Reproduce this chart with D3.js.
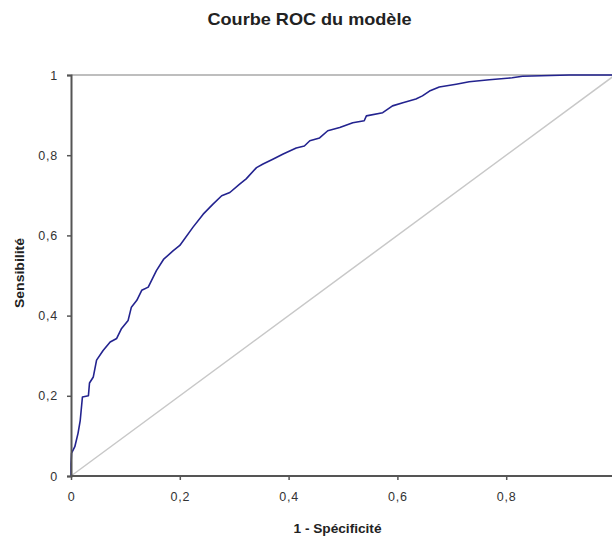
<!DOCTYPE html>
<html>
<head>
<meta charset="utf-8">
<script src="https://cdn.jsdelivr.net/npm/d3@7"></script>
<style>
  html, body { margin: 0; padding: 0; background: #fff; }
  svg { display: block; font-family: "Liberation Sans", Arial, sans-serif; }
</style>
</head>
<body>
<svg id="chart" width="612" height="538"></svg>
<script>
// ROC curve points (1 - specificity, sensitivity)
const fpr = [0, 0, 0.001, 0.007, 0.013, 0.017, 0.021, 0.032, 0.034, 0.041, 0.047, 0.059, 0.072, 0.084, 0.093, 0.105, 0.111, 0.121, 0.130, 0.142, 0.157, 0.170, 0.188, 0.200, 0.224, 0.243, 0.261, 0.277, 0.292, 0.310, 0.322, 0.341, 0.353, 0.371, 0.390, 0.414, 0.429, 0.439, 0.457, 0.472, 0.494, 0.518, 0.539, 0.543, 0.573, 0.591, 0.610, 0.634, 0.646, 0.659, 0.677, 0.708, 0.732, 0.769, 0.811, 0.830, 0.916, 1.0];
const tpr = [0, 0.03, 0.057, 0.073, 0.107, 0.139, 0.197, 0.200, 0.232, 0.247, 0.289, 0.313, 0.334, 0.343, 0.368, 0.388, 0.421, 0.438, 0.463, 0.471, 0.512, 0.540, 0.562, 0.575, 0.620, 0.653, 0.678, 0.699, 0.707, 0.728, 0.741, 0.769, 0.778, 0.790, 0.803, 0.818, 0.823, 0.836, 0.843, 0.861, 0.869, 0.881, 0.886, 0.898, 0.906, 0.923, 0.931, 0.940, 0.948, 0.960, 0.970, 0.977, 0.983, 0.988, 0.993, 0.997, 1.0, 1.0];
// reference diagonal
const diagX = [0, 1];
const diagY = [0, 1];
const xTicks = [0, 0.2, 0.4, 0.6, 0.8, 1];
const yTicks = [0, 0.2, 0.4, 0.6, 0.8, 1];
const fmt = d => String(d).replace(".", ",");

const svg = d3.select("#chart");
const x = d3.scaleLinear().domain([0, 1]).range([71, 615]);
const y = d3.scaleLinear().domain([0, 1]).range([476, 75]);

// title
svg.append("text").attr("x", 309.5).attr("y", 25).attr("text-anchor", "middle")
  .attr("font-size", 17).attr("font-weight", "bold").attr("fill", "#222")
  .attr("textLength", 204).attr("lengthAdjust", "spacingAndGlyphs")
  .text("Courbe ROC du modèle");

// top border
svg.append("line").attr("x1", x(0)).attr("x2", 612).attr("y1", y(1)).attr("y2", y(1))
  .attr("stroke", "#a8a8a8").attr("stroke-width", 1.5);

// diagonal
svg.append("path")
  .datum(diagX.map((d, i) => [d, diagY[i]]))
  .attr("fill", "none").attr("stroke", "#c8c8c8").attr("stroke-width", 1.5)
  .attr("d", d3.line().x(d => x(d[0])).y(d => y(d[1])));

// ROC curve
svg.append("path")
  .datum(fpr.map((d, i) => [d, tpr[i]]))
  .attr("fill", "none").attr("stroke", "#23238f").attr("stroke-width", 1.6)
  .attr("stroke-linejoin", "round")
  .attr("d", d3.line().x(d => x(d[0])).y(d => y(d[1])));

// axes
const xAxis = svg.append("g").attr("transform", `translate(0,${y(0)})`)
  .call(d3.axisBottom(x).tickValues(xTicks).tickFormat(fmt).tickSize(4).tickPadding(12));
const yAxis = svg.append("g").attr("transform", `translate(${x(0)},0)`)
  .call(d3.axisLeft(y).tickValues(yTicks).tickFormat(fmt).tickSize(4).tickPadding(9));
[xAxis, yAxis].forEach(g => {
  g.select(".domain").attr("stroke", "#555").attr("stroke-width", 2);
  g.selectAll(".tick line").attr("stroke", "#555").attr("stroke-width", 1.5);
  g.selectAll(".tick text").attr("font-size", 12.5).attr("fill", "#333")
    .attr("letter-spacing", 0.8)
    .attr("font-family", "'Liberation Sans', Arial, sans-serif");
});
xAxis.select(".domain").attr("d", `M${x(0)},0H612`);

// axis titles
svg.append("text").attr("x", 337.5).attr("y", 533).attr("text-anchor", "middle")
  .attr("font-size", 12).attr("font-weight", "bold").attr("fill", "#222")
  .attr("textLength", 88).attr("lengthAdjust", "spacingAndGlyphs")
  .text("1 - Spécificité");
svg.append("text").attr("transform", "translate(24,273) rotate(-90)")
  .attr("text-anchor", "middle")
  .attr("font-size", 12).attr("font-weight", "bold").attr("fill", "#222")
  .attr("textLength", 70).attr("lengthAdjust", "spacingAndGlyphs")
  .text("Sensibilité");
</script>
</body>
</html>
